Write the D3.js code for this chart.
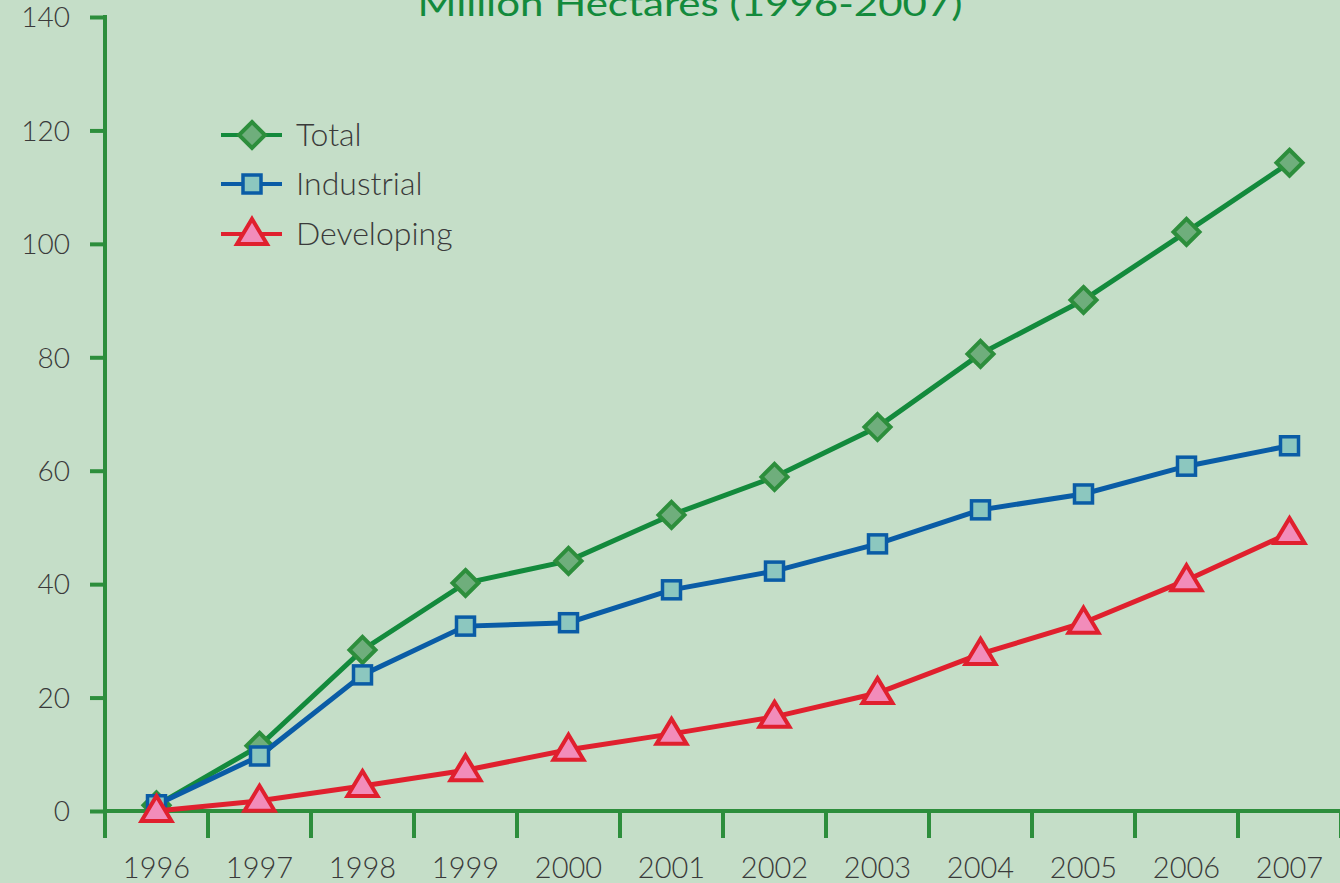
<!DOCTYPE html>
<html>
<head>
<meta charset="utf-8">
<script src="https://cdn.jsdelivr.net/npm/d3@7"></script>
<style>
  body { margin: 0; background: #c5dec8; }
  svg { display: block; }
</style>
</head>
<body>
<svg id="chart"></svg>
<script>
// years and series, million hectares
const years = ["1996","1997","1998","1999","2000","2001","2002","2003","2004","2005","2006","2007"];
const total = [1.0, 11.5, 28.4, 40.2, 44.1, 52.2, 58.9, 67.7, 80.6, 90.1, 102.1, 114.3];
const industrial = [1.1, 9.7, 24.0, 32.6, 33.2, 39.0, 42.3, 47.1, 53.1, 55.9, 60.8, 64.4];
const developing = [0.0, 1.8, 4.4, 7.2, 10.8, 13.6, 16.6, 20.8, 27.7, 33.2, 40.7, 49.0];
const yTicks = [0, 20, 40, 60, 80, 100, 120, 140];

const W = 1340, H = 883;
const margin = {top: 17, right: 0, bottom: 72, left: 105};

const svg = d3.select("#chart").attr("width", W).attr("height", H);
svg.append("rect").attr("width", W).attr("height", H).attr("fill", "#c5dec8");

const x = d3.scaleBand().domain(years).range([margin.left, W + 1]);
const y = d3.scaleLinear().domain([0, 140]).range([H - margin.bottom, margin.top]);

const axisColor = "#2d8e3c";
const labelFont = "Lato, 'Open Sans', sans-serif";
const textColor = "#3a3a3a";

// title (cut off at top edge like the original)
svg.append("text")
    .attr("x", 690)
    .attr("y", 16)
    .attr("text-anchor", "middle")
    .attr("font-family", labelFont)
    .attr("font-size", 34)
    .attr("fill", "#138a3c")
    .attr("textLength", 545)
    .attr("lengthAdjust", "spacingAndGlyphs")
    .text("Million Hectares (1996-2007)");

// y axis
const yAxis = svg.append("g")
    .attr("transform", "translate(" + margin.left + ",0)")
    .call(d3.axisLeft(y).tickValues(yTicks).tickSize(15).tickPadding(20).tickSizeOuter(0));
yAxis.select(".domain").attr("stroke", axisColor).attr("stroke-width", 4)
    .attr("d", "M0," + y(0) + "V" + (y(140) - 2));
yAxis.selectAll(".tick line").attr("stroke", axisColor).attr("stroke-width", 4);
yAxis.selectAll(".tick text")
    .attr("fill", textColor)
    .attr("font-family", labelFont)
    .attr("font-weight", 300)
    .attr("font-size", 28)
    .attr("dy", "0.35em");

// x axis: ticks at band edges, hanging below the line
const xEdges = years.map(d => x(d)).concat([x(years[years.length - 1]) + x.bandwidth()]);
const xAxisG = svg.append("g");
xAxisG.append("line")
    .attr("x1", margin.left - 2).attr("x2", W)
    .attr("y1", y(0)).attr("y2", y(0))
    .attr("stroke", axisColor).attr("stroke-width", 4);
xAxisG.selectAll("line.tk")
    .data(xEdges)
    .enter().append("line")
    .attr("class", "tk")
    .attr("x1", d => d).attr("x2", d => d)
    .attr("y1", y(0)).attr("y2", y(0) + 27)
    .attr("stroke", axisColor).attr("stroke-width", 4);
xAxisG.selectAll("text")
    .data(years)
    .enter().append("text")
    .attr("x", d => x(d) + x.bandwidth() / 2)
    .attr("y", 878)
    .attr("text-anchor", "middle")
    .attr("font-family", labelFont)
    .attr("font-weight", 300)
    .attr("font-size", 29)
    .attr("fill", textColor)
    .text(d => d);

const cx = d => x(d) + x.bandwidth() / 2;

const series = [
    {name: "Total", values: total, line: "#138a3c", stroke: "#2d8e3c", fill: "#6fae7c", symbol: "diamond"},
    {name: "Industrial", values: industrial, line: "#0a5ca6", stroke: "#0a5ca6", fill: "#8cc7bf", symbol: "square"},
    {name: "Developing", values: developing, line: "#e0202e", stroke: "#e0202e", fill: "#f28cba", symbol: "triangle"}
];

function drawMarker(g, type, px, py, s) {
    if (type === "diamond") {
        g.append("path")
            .attr("d", "M" + px + "," + (py - 13) + "L" + (px + 13) + "," + py + "L" + px + "," + (py + 13) + "L" + (px - 13) + "," + py + "Z")
            .attr("fill", s.fill).attr("stroke", s.stroke).attr("stroke-width", 4);
    } else if (type === "square") {
        g.append("rect")
            .attr("x", px - 9).attr("y", py - 9)
            .attr("width", 18).attr("height", 18)
            .attr("fill", s.fill).attr("stroke", s.stroke).attr("stroke-width", 3.5);
    } else {
        g.append("path")
            .attr("d", "M" + px + "," + (py - 15) + "L" + (px + 15) + "," + (py + 10) + "L" + (px - 15) + "," + (py + 10) + "Z")
            .attr("fill", s.fill).attr("stroke", s.stroke).attr("stroke-width", 4)
            .attr("stroke-linejoin", "miter");
    }
}

const line = d3.line()
    .x((d, i) => cx(years[i]))
    .y(d => y(d));

series.forEach(s => {
    const g = svg.append("g");
    g.append("path")
        .datum(s.values)
        .attr("fill", "none")
        .attr("stroke", s.line)
        .attr("stroke-width", 5)
        .attr("d", line);
    s.values.forEach((v, i) => drawMarker(g, s.symbol, cx(years[i]), y(v), s));
});

// legend
const legY = [135, 184, 234];
series.forEach((s, i) => {
    const g = svg.append("g");
    g.append("line")
        .attr("x1", 221).attr("x2", 282)
        .attr("y1", legY[i]).attr("y2", legY[i])
        .attr("stroke", s.line).attr("stroke-width", 4);
    drawMarker(g, s.symbol, 252, legY[i], s);
    g.append("text")
        .attr("x", 296)
        .attr("y", legY[i])
        .attr("dy", "0.35em")
        .attr("font-family", labelFont)
        .attr("font-weight", 300)
        .attr("font-size", 32)
        .attr("fill", textColor)
        .text(s.name);
});
</script>
</body>
</html>
